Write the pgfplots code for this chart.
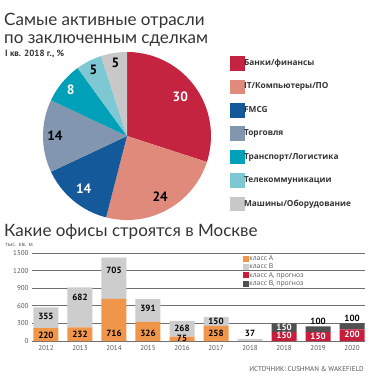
\documentclass[border=0pt]{standalone}
\usepackage{pgfplots}
\pgfplotsset{compat=1.18}
\usepackage{fontspec}
\setmainfont{PT Sans}
\newfontfamily\titlefont{Lato}
\newfontfamily\legfont{Open Sans}
\definecolor{pieA}{HTML}{C42440}
\definecolor{pieB}{HTML}{E08A7C}
\definecolor{pieC}{HTML}{145A9B}
\definecolor{pieD}{HTML}{8296AF}
\definecolor{pieE}{HTML}{00A0B8}
\definecolor{pieF}{HTML}{7DC8D2}
\definecolor{pieG}{HTML}{C8C8C8}
\definecolor{barorange}{HTML}{F0964B}
\definecolor{bargray}{HTML}{CDCDCD}
\definecolor{fcred}{HTML}{C81E3C}
\definecolor{fcdark}{HTML}{505050}
\definecolor{titlegray}{HTML}{333333}
\definecolor{tickgray}{HTML}{555555}
\definecolor{gridgray}{HTML}{707070}
\begin{document}
\begin{tikzpicture}
\path[use as bounding box] (0pt,0pt) rectangle (370pt,-380pt);
% titles
\node[anchor=base west, inner sep=0, text=titlegray, font=\titlefont\fontsize{17}{17}\selectfont] at (4pt,-25pt) {Самые активные отрасли};
\node[anchor=base west, inner sep=0, text=titlegray, font=\titlefont\fontsize{17}{17}\selectfont] at (4pt,-43pt) {по заключенным сделкам};
\node[anchor=base west, inner sep=0, text=titlegray, font=\bfseries\fontsize{9}{9}\selectfont] at (5pt,-56pt) {I кв. 2018 г., \%};
\node[anchor=base west, inner sep=0, text=titlegray, font=\titlefont\fontsize{17}{17}\selectfont] at (4pt,-236pt) {Какие офисы строятся в Москве};
\node[anchor=base west, inner sep=0, text=tickgray, font=\legfont\fontsize{5.8}{5.8}\selectfont] at (5pt,-246pt) {тыс. кв. м};
\node[anchor=base east, inner sep=0, text=tickgray, font=\fontsize{7}{7}\selectfont] at (364pt,-371pt) {ИСТОЧНИК: CUSHMAN \& WAKEFIELD};

% pie
\begin{axis}[at={(127pt,-136pt)}, anchor=center, hide axis, scale only axis,
  x=1pt, y=1pt, xmin=-85, xmax=85, ymin=-85, ymax=85,
  legend image code/.code={\fill[#1] (0pt,-6.75pt) rectangle (13.5pt,6.75pt);},
  legend cell align=left,
  legend style={draw=none, fill=none, at={(1.106,0.97)}, anchor=north west,
    font=\legfont\bfseries\fontsize{8.3}{8.3}\selectfont, text=titlegray,
    row sep=9.5pt, inner sep=0pt, nodes={inner sep=0pt, anchor=west},
    /tikz/every even column/.style={column sep=5pt}}]
\addlegendimage{pieA}\addlegendentry{Банки/финансы}
\addlegendimage{pieB}\addlegendentry{IT/Компьютеры/ПО}
\addlegendimage{pieC}\addlegendentry{FMCG}
\addlegendimage{pieD}\addlegendentry{Торговля}
\addlegendimage{pieE}\addlegendentry{Транспорт/Логистика}
\addlegendimage{pieF}\addlegendentry{Телекоммуникации}
\addlegendimage{pieG}\addlegendentry{Машины/Оборудование}
\pgfplotsextra{
  \gdef\pieang{90}
  \foreach \v/\col/\tc/\lr in {30/pieA/white/66, 24/pieB/black/69, 14/pieC/white/68, 14/pieD/black/72, 8/pieE/white/73, 5/pieF/black/74, 5/pieG/black/74}{
    \pgfmathsetmacro\ea{\pieang-3.6*\v}
    \pgfmathsetmacro\ma{(\pieang+\ea)/2}
    \fill[\col] (axis cs:0,0) -- (axis cs:{84*cos(\pieang)},{84*sin(\pieang)}) arc[start angle=\pieang, end angle=\ea, radius=84pt] -- cycle;
    \node[text=\tc, font=\bfseries\fontsize{13.5}{13.5}\selectfont, inner sep=0] at (axis cs:{\lr*cos(\ma)},{\lr*sin(\ma)}) {\v};
    \global\let\pieang\ea
  }
}
\end{axis}

% bars
\begin{axis}[at={(32pt,-341pt)}, anchor=south west, scale only axis,
  width=333pt, height=88pt, xmin=-0.41, xmax=9.38, ymin=0, ymax=1500,
  ybar stacked, bar width=25pt,
  axis line style={draw=none}, major tick style={draw=none},
  ymajorgrids, grid style={gridgray, line width=0.9pt},
  ytick={0,300,600,900,1200,1500}, yticklabels={0,300,600,900,1200,1500},
  xtick={0,1,2,3,4,5,6,7,8,9},
  xticklabels={2012,2013,2014,2015,2016,2017,2018,2018,2019,2020},
  tick label style={font=\fontsize{7}{7}\selectfont, text=tickgray},
  xticklabel style={yshift=-1pt},
  legend image code/.code={\fill[#1] (0pt,-3pt) rectangle (6pt,3pt);},
  legend cell align=left,
  legend style={draw=none, fill=none, at={(0.634,0.97)}, anchor=north west,
    font=\legfont\fontsize{6.8}{6.8}\selectfont, text=tickgray,
    row sep=1.8pt, inner sep=0pt, nodes={inner sep=0pt, anchor=west},
    /tikz/every even column/.style={column sep=2pt}}]
\addplot[fill=barorange, draw=none] coordinates {(0,220) (1,232) (2,716) (3,326) (4,75) (5,258) (6,0) (7,0) (8,0) (9,0)};
\addlegendentry{класс A}
\addplot[fill=bargray, draw=none] coordinates {(0,355) (1,682) (2,705) (3,391) (4,268) (5,150) (6,37) (7,0) (8,0) (9,0)};
\addlegendentry{класс B}
\addplot[fill=fcred, draw=none] coordinates {(0,0) (1,0) (2,0) (3,0) (4,0) (5,0) (6,0) (7,150) (8,150) (9,200)};
\addlegendentry{класс A, прогноз}
\addplot[fill=fcdark, draw=none] coordinates {(0,0) (1,0) (2,0) (3,0) (4,0) (5,0) (6,0) (7,150) (8,100) (9,100)};
\addlegendentry{класс B, прогноз}
\end{axis}

% value labels (overlay axis with identical geometry)
\begin{axis}[at={(32pt,-341pt)}, anchor=south west, scale only axis, hide axis,
  width=333pt, height=88pt, xmin=-0.41, xmax=9.38, ymin=0, ymax=1500,
  clip=false,
  nodes near coords, point meta=explicit symbolic,
  nodes near coords style={anchor=center, inner sep=0pt, font=\bfseries\fontsize{9}{9}\selectfont}]
\addplot[only marks, mark=none, nodes near coords style={text=black}] table[meta=lab] {
x y lab
0 102 220
1 119 232
2 136 716
3 136 326
4 51 75
5 136 258
0 426 355
1 750 682
2 1210 705
3 563 391
4 222 268
5 341 150
6 136 37
8 341 100
9 392 100
};
\addplot[only marks, mark=none, nodes near coords style={text=white}] table[meta=lab] {
x y lab
7 102 150
7 239 150
8 85 150
9 119 200
};
\end{axis}
\end{tikzpicture}
\end{document}
